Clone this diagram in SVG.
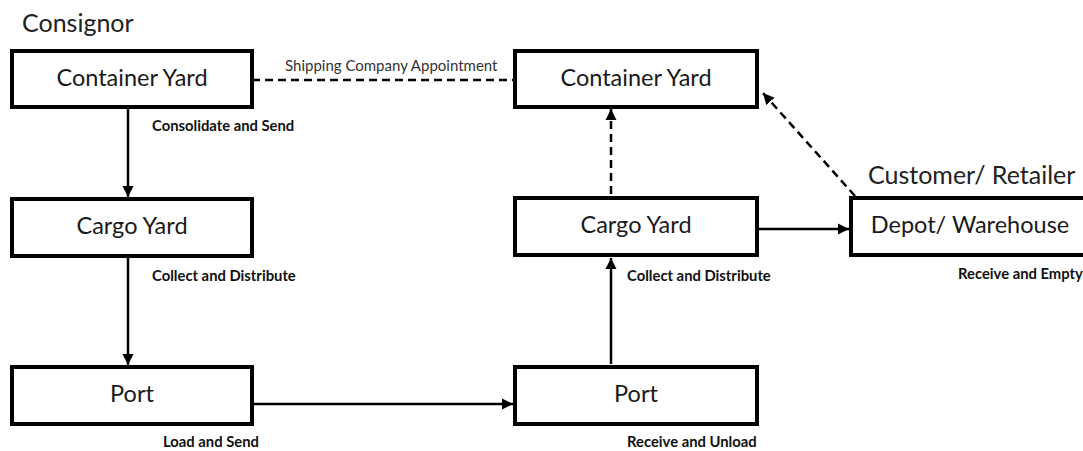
<svg xmlns="http://www.w3.org/2000/svg" width="1083" height="451" viewBox="0 0 1083 451">
<defs>
<style>
.box{fill:#fff;stroke:#000;stroke-width:4}
.t{font-family:Lato,"Open Sans","Liberation Sans",sans-serif;font-size:23.5px;fill:#1a1a1a;text-anchor:middle}
.h{font-family:Lato,"Open Sans","Liberation Sans",sans-serif;font-size:25px;fill:#222}
.lb{font-family:Lato,"Open Sans","Liberation Sans",sans-serif;font-size:14.8px;font-weight:bold;fill:#111}
.ln{font-family:Lato,"Open Sans","Liberation Sans",sans-serif;font-size:15px;fill:#333}
.c{stroke:#000;stroke-width:2.5;fill:none}
.d{stroke-dasharray:8,5}
</style>
<marker id="ah" viewBox="0 0 10 10" refX="10" refY="5" markerWidth="4.5" markerHeight="4.5" orient="auto" markerUnits="strokeWidth">
<path d="M0,0 L10,5 L0,10 z" fill="#000"/>
</marker>
</defs>
<text class="h" x="22" y="32">Consignor</text>
<text class="h" x="868" y="184">Customer/ Retailer</text>
<g id="connectors">
<line class="c" x1="128" y1="108" x2="128" y2="197" marker-end="url(#ah)"/>
<line class="c" x1="128" y1="257" x2="128" y2="365" marker-end="url(#ah)"/>
<line class="c" x1="252" y1="404" x2="513" y2="404" marker-end="url(#ah)"/>
<line class="c" x1="611" y1="364" x2="611" y2="258" marker-end="url(#ah)"/>
<line class="c" x1="758" y1="229" x2="849" y2="229" marker-end="url(#ah)"/>
<line class="c d" x1="611" y1="194" x2="611" y2="109" marker-end="url(#ah)"/>
<line class="c d" x1="855" y1="196" x2="763" y2="93" marker-end="url(#ah)"/>
<line class="c d" x1="252" y1="80" x2="515" y2="80"/>
<text class="ln" x="285" y="71">Shipping Company Appointment</text>
<text class="lb" x="152" y="131">Consolidate and Send</text>
<text class="lb" x="152" y="281">Collect and Distribute</text>
<text class="lb" x="163" y="447">Load and Send</text>
<text class="lb" x="627" y="281">Collect and Distribute</text>
<text class="lb" x="627" y="447">Receive and Unload</text>
<text class="lb" x="958" y="279">Receive and Empty</text>
</g>
<g id="cy1"><rect class="box" x="12" y="51" width="240" height="56"/><text class="t" x="132" y="86">Container Yard</text></g>
<g id="cg1"><rect class="box" x="12" y="199" width="240" height="57"/><text class="t" x="132" y="234">Cargo Yard</text></g>
<g id="p1"><rect class="box" x="12" y="367" width="240" height="57"/><text class="t" x="132" y="402">Port</text></g>
<g id="cy2"><rect class="box" x="515" y="51" width="242" height="56"/><text class="t" x="636" y="86">Container Yard</text></g>
<g id="cg2"><rect class="box" x="515" y="198" width="242" height="57"/><text class="t" x="636" y="233">Cargo Yard</text></g>
<g id="p2"><rect class="box" x="515" y="367" width="242" height="57"/><text class="t" x="636" y="402">Port</text></g>
<g id="dw"><rect class="box" x="851" y="198" width="240" height="57"/><text class="t" x="970" y="233">Depot/ Warehouse</text></g>
</svg>
